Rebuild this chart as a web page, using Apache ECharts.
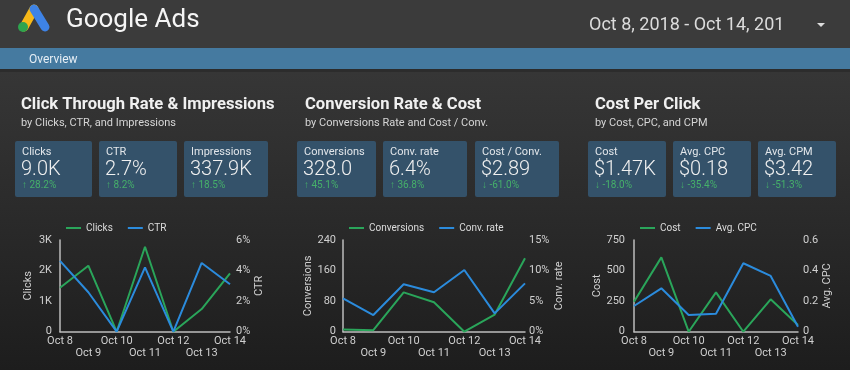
<!DOCTYPE html>
<html><head><meta charset="utf-8">
<script src="https://cdn.jsdelivr.net/npm/echarts@6/dist/echarts.min.js"></script>
<style>
html,body{margin:0;padding:0;background:#222}
#c{width:850px;height:370px;background:linear-gradient(to bottom,#3b3b3b 0px,#3b3b3b 69px,#2c2c2c 69px,#2c2c2c 72px,#363636 72px,#2a2a2a 220px,#1d1d1d 370px)}
</style>
</head><body><div id="c"></div>
<script>
// ---- data ----
const dates = ['Oct 8','Oct 9','Oct 10','Oct 11','Oct 12','Oct 13','Oct 14'];
const clicks = [1440, 2160, 0, 2780, 0, 740, 1910];
const ctr = [4.63, 2.58, 0, 4.21, 0, 4.5, 3.1];
const conversions = [6, 4, 103, 77, 0, 45, 192];
const convRate = [5.46, 2.73, 7.75, 6.45, 10.1, 3.0, 7.9];
const cost = [245, 608, 0, 322, 0, 265, 55];
const avgCpc = [0.168, 0.284, 0.109, 0.118, 0.448, 0.365, 0.033];

const sectionTitles = ['Click Through Rate & Impressions','Conversion Rate & Cost','Cost Per Click'];
const sectionSubtitles = ['by Clicks, CTR, and Impressions','by Conversions Rate and Cost / Conv.','by Cost, CPC, and CPM'];
const cardLabels = ['Clicks','CTR','Impressions','Conversions','Conv. rate','Cost / Conv.','Cost','Avg. CPC','Avg. CPM'];
const cardValues = ['9.0K','2.7%','337.9K','328.0','6.4%','$2.89','$1.47K','$0.18','$3.42'];
const cardChanges = ['28.2%','8.2%','18.5%','45.1%','36.8%','-61.0%','-18.0%','-35.4%','-51.3%'];
const cardUp = [true,true,true,true,true,false,false,false,false];
const dateRange = 'Oct 8, 2018 - Oct 14, 2018';

// ---- layout ----
const FONT = 'Roboto';
const green = '#2aa55a', blue = '#2b8bdc';
const axisCol = '#bdbdbd', labCol = '#d0d0d0';
const gridLeft = [60, 343, 634], gridWidth = [170, 182, 164];
const titleX = [21, 305, 595];
const cardX = [[15,92],[99,177],[184,268],[297,376],[383,467],[475,559],[588,666],[673,751],[758,836]];

const graphic = [];
graphic.push({type:'rect', shape:{x:0,y:48,width:850,height:21}, style:{fill:'#457aa0'}});
graphic.push({type:'text', x:29, y:60, style:{text:'Overview', fill:'#e6eef5', fontSize:12, fontFamily:FONT, verticalAlign:'middle'}});
// logo
graphic.push({type:'line', shape:{x1:34,y1:9,x2:24,y2:27}, style:{stroke:'#f6b818', lineWidth:9, lineCap:'round'}});
graphic.push({type:'line', shape:{x1:34,y1:9,x2:45,y2:27}, style:{stroke:'#3e83e6', lineWidth:9, lineCap:'round'}});
graphic.push({type:'circle', shape:{cx:23,cy:27,r:5}, style:{fill:'#2da44e'}});
graphic.push({type:'text', x:66, y:20, style:{text:'Google Ads', fill:'#f5f5f5', fontSize:26, fontFamily:FONT, verticalAlign:'middle'}});
graphic.push({type:'text', x:589, y:25, style:{text:dateRange, fill:'#dcdcdc', fontSize:18, fontFamily:FONT, verticalAlign:'middle', width:204, overflow:'truncate', ellipsis:''}});
graphic.push({type:'polygon', shape:{points:[[817,23],[825,23],[821,27]]}, style:{fill:'#dddddd'}});

for (let i=0;i<3;i++){
  graphic.push({type:'text', x:titleX[i], y:105, style:{text:sectionTitles[i], fill:'#f0f0f0', fontSize:16.6, fontWeight:'bold', fontFamily:FONT, verticalAlign:'middle'}});
  graphic.push({type:'text', x:titleX[i], y:123, style:{text:sectionSubtitles[i], fill:'#d6d6d6', fontSize:11, fontFamily:FONT, verticalAlign:'middle'}});
}
for (let k=0;k<cardLabels.length;k++){
  const [x0,x1] = cardX[k];
  graphic.push({type:'rect', shape:{x:x0,y:141,width:x1-x0,height:56,r:2}, style:{fill:'#34526a'}});
  graphic.push({type:'text', x:x0+7, y:152, style:{text:cardLabels[k], fill:'#e2e6ea', fontSize:11, fontFamily:FONT, verticalAlign:'middle'}});
  graphic.push({type:'text', x:x0+6, y:170, style:{text:cardValues[k], fill:'#f0f0f0', fontSize:20, fontWeight:300, fontFamily:FONT, verticalAlign:'middle'}});
  graphic.push({type:'text', x:x0+7, y:185, style:{text:(cardUp[k]?'↑ ':'↓ ')+cardChanges[k], fill:'#46b06a', fontSize:10, fontFamily:FONT, verticalAlign:'middle'}});
}

const legendNames = [['Clicks','CTR'],['Conversions','Conv. rate'],['Cost','Avg. CPC']];
const legendLeft = [61, 344, 635];
const legends = legendNames.map((d,i)=>({
  left: legendLeft[i], top: 218, itemWidth: 15, itemHeight: 2, icon: 'rect', itemGap: 15,
  textStyle: {color:'#dcdcdc', fontSize:10, fontFamily:FONT}, data: d, selectedMode:false
}));

const grids = gridLeft.map((l,i)=>({left:l, width:gridWidth[i], top:240, height:91.7}));
const xAxes = gridLeft.map((l,i)=>({
  type:'category', gridIndex:i, data:dates, boundaryGap:false,
  axisLine:{lineStyle:{color:axisCol, width:1.5}}, axisTick:{show:false},
  axisLabel:{interval:0, color:labCol, fontSize:11, fontFamily:FONT, lineHeight:12, margin:4,
    formatter:(v,idx)=> idx%2 ? '\n'+v : v}
}));
function yAx(grid, pos, max, interval, fmt, name, gap, margin){
  return {type:'value', gridIndex:grid, position:pos, min:0, max:max, interval:interval,
    name:name, nameLocation:'middle', nameRotate:90, nameGap:gap,
    nameTextStyle:{color:labCol, fontSize:11, fontFamily:FONT},
    axisLine:{show:pos==='left', lineStyle:{color:axisCol, width:1.5}}, axisTick:{show:false},
    splitLine:{show:false},
    axisLabel:{color:labCol, fontSize:11, fontFamily:FONT, margin:margin, formatter:fmt}};
}
const yAxes = [
  yAx(0,'left',3000,1000,v=>v===0?'0':(v/1000)+'K','Clicks',26,8),
  yAx(0,'right',6,2,v=>v+'%','CTR',23,6),
  yAx(1,'left',240,80,v=>String(v),'Conversions',26,7),
  yAx(1,'right',15,5,v=>v+'%','Conv. rate',16,4),
  yAx(2,'left',750,250,v=>String(v),'Cost',28,9),
  yAx(2,'right',0.6,0.2,v=>v===0?'0':v.toFixed(1),'Avg. CPC',24,5)
];
function ln(name, data, color, xi, yi){
  return {type:'line', name:name, data:data, xAxisIndex:xi, yAxisIndex:yi, showSymbol:false,
    lineStyle:{color:color, width:2}, itemStyle:{color:color}, animation:false};
}
const series = [
  ln('Clicks', clicks, green, 0, 0),
  ln('CTR', ctr, blue, 0, 1),
  ln('Conversions', conversions, green, 1, 2),
  ln('Conv. rate', convRate, blue, 1, 3),
  ln('Cost', cost, green, 2, 4),
  ln('Avg. CPC', avgCpc, blue, 2, 5)
];

const chart = echarts.init(document.getElementById('c'));
chart.setOption({
  backgroundColor:'transparent', animation:false,
  graphic: graphic, legend: legends, grid: grids, xAxis: xAxes, yAxis: yAxes, series: series
});
</script></body></html>
